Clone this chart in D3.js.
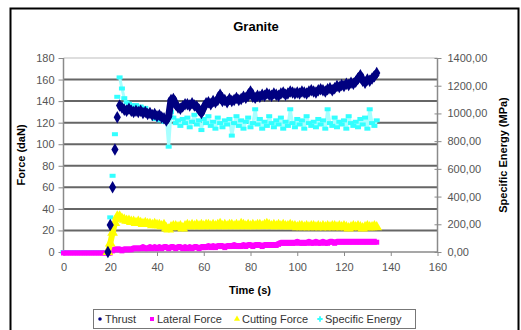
<!DOCTYPE html>
<html>
<head>
<meta charset="utf-8">
<script src="https://cdn.jsdelivr.net/npm/d3@7"></script>
<style>
  body { margin: 0; background: #fff; }
  svg { font-family: Arial, "Liberation Sans", sans-serif; }
</style>
</head>
<body>
<div id="chart"></div>
<script>
// Granite: forces (left axis, daN) and specific energy (right axis, MPa) vs time (s)
const title = 'Granite';
const forceTicks = [0, 20, 40, 60, 80, 100, 120, 140, 160, 180];
const energyTicks = [0, 200, 400, 600, 800, 1000, 1200, 1400];
const timeTicks = [0, 20, 40, 60, 80, 100, 120, 140, 160];
const seriesNames = ['Thrust', 'Lateral Force', 'Cutting Force', 'Specific Energy'];
const seriesColors = ['#000080', '#ff00ff', '#ffff00', '#33ffff'];

// one reading per second, first value at the given start time
const thrustStart = 19;
const thrust = [0, 25, 60, 95, 125, 136, 134, 132, 131, 133, 131, 130, 131, 130, 131, 129, 130, 128, 129, 127,
  128, 126, 127, 125, 124, 122, 126, 141, 142, 137, 134, 133, 135, 137, 137, 136, 138, 136, 135, 132,
  129, 134, 138, 139, 137, 140, 139, 141, 146, 140, 141, 139, 142, 140, 141, 143, 141, 142, 144, 143,
  145, 149, 144, 143, 145, 144, 146, 145, 147, 146, 145, 147, 146, 145, 147, 148, 146, 147, 149, 148,
  147, 148, 147, 149, 148, 147, 149, 150, 149, 148, 150, 151, 150, 149, 151, 152, 150, 152, 154, 153,
  155, 154, 156, 155, 157, 156, 158, 161, 164, 159, 157, 160, 159, 161, 163, 166];

const lateralStart = 0;
const lateral = [0, 0, 0, 0, 0, 0, 0, 0, 0, 0, 0, 0, 0, 0, 0, 0, 0, 0, 0, 0,
  0, 2, 3, 3, 3, 2, 3, 3, 3, 3, 4, 4, 4, 4, 5, 4, 4, 5, 4, 5,
  4, 5, 4, 5, 5, 4, 5, 5, 4, 5, 5, 4, 5, 4, 5, 4, 5, 5, 4, 5,
  5, 5, 6, 5, 6, 5, 6, 6, 6, 5, 6, 6, 6, 7, 6, 6, 6, 7, 6, 7,
  7, 6, 7, 7, 7, 6, 7, 7, 7, 7, 7, 7, 8, 9, 9, 9, 9, 9, 9, 9,
  10, 9, 9, 9, 9, 10, 9, 9, 10, 9, 9, 10, 9, 9, 10, 10, 9, 10, 10, 10,
  10, 10, 10, 10, 10, 10, 10, 10, 10, 10, 10, 10, 10, 10, 10];

const cuttingStart = 19;
const cutting = [0, 8, 18, 27, 33, 33, 31, 30, 29, 29, 28, 28, 27, 28, 27, 26, 27, 26, 26, 25,
  26, 25, 25, 24, 25, 22, 21, 23, 24, 24, 23, 24, 22, 24, 25, 24, 25, 24, 25, 24,
  25, 24, 25, 25, 24, 25, 24, 25, 26, 24, 25, 24, 25, 25, 24, 25, 24, 26, 25, 24,
  25, 24, 25, 24, 25, 25, 24, 25, 26, 25, 24, 25, 24, 25, 24, 25, 24, 24, 25, 24,
  24, 23, 24, 24, 23, 24, 23, 24, 24, 23, 24, 23, 24, 23, 24, 23, 24, 24, 23, 24,
  23, 24, 23, 22, 23, 24, 23, 24, 23, 22, 23, 24, 23, 23, 24, 23];

const energyStart = 0;
const energy = [0, 0, 0, 0, 0, 0, 0, 0, 0, 0, 0, 0, 0, 0, 0, 0, 0, 0, 0, 0,
  250, 550, 850, 1120, 1260, 1180, 1110, 1080, 1070, 1060, 1050, 1060, 1040, 1050, 1030, 1040, 1010, 990, 1000, 960,
  980, 950, 970, 940, 960, 760, 1010, 970, 930, 950, 910, 960, 930, 970, 900, 940, 990, 920, 950, 880,
  960, 930, 980, 910, 940, 890, 970, 930, 900, 950, 920, 960, 840, 930, 980, 910, 950, 890, 940, 970,
  900, 930, 1030, 920, 960, 890, 940, 910, 980, 930, 900, 950, 920, 970, 890, 940, 910, 1030, 930, 900,
  960, 920, 950, 890, 980, 930, 910, 940, 900, 960, 920, 950, 890, 1030, 930, 910, 970, 900, 940, 920,
  950, 890, 980, 930, 910, 940, 900, 960, 920, 970, 890, 1030, 930, 910, 950];

const width = 521, height = 330;
const plot = {left: 63.5, right: 437.5, top: 58, bottom: 252};

const svg = d3.select('#chart').append('svg')
  .attr('width', width)
  .attr('height', height);

// outer chart frame
svg.append('rect')
  .attr('x', 10.5).attr('y', 8.5)
  .attr('width', 508).attr('height', 330)
  .attr('fill', '#fff')
  .attr('stroke', '#000')
  .attr('stroke-width', 2);

const x = d3.scaleLinear().domain([0, 160]).range([plot.left, plot.right]);
const yF = d3.scaleLinear().domain([0, 180]).range([plot.bottom, plot.top]);
const yE = d3.scaleLinear().domain([0, 1400]).range([plot.bottom, plot.top]);

// gridlines
svg.append('g')
  .selectAll('line')
  .data(forceTicks.filter(d => d > 0 && d < 180))
  .join('line')
  .attr('x1', plot.left).attr('x2', plot.right)
  .attr('y1', d => yF(d)).attr('y2', d => yF(d))
  .attr('stroke', '#666')
  .attr('stroke-width', 2);

// plot area border (light)
svg.append('line')
  .attr('x1', plot.left).attr('x2', plot.right)
  .attr('y1', plot.top).attr('y2', plot.top)
  .attr('stroke', '#bdbdbd');

// axes
const axisColor = '#8a8a8a';
const leftAxis = svg.append('g')
  .attr('transform', `translate(${plot.left},0)`)
  .call(d3.axisLeft(yF).tickValues(forceTicks).tickSize(5).tickPadding(4));
const rightAxis = svg.append('g')
  .attr('transform', `translate(${plot.right},0)`)
  .call(d3.axisRight(yE).tickValues(energyTicks).tickSizeInner(4).tickSizeOuter(0).tickPadding(6)
    .tickFormat(d => d3.format('.2f')(d).replace('.', ',')));
rightAxis.selectAll('.tick line').attr('x1', -3);
const bottomAxis = svg.append('g')
  .attr('transform', `translate(0,${plot.bottom})`)
  .call(d3.axisBottom(x).tickValues(timeTicks).tickSize(4).tickPadding(7));

[leftAxis, rightAxis, bottomAxis].forEach(a => {
  a.select('.domain').attr('stroke', axisColor).attr('stroke-width', 1.5);
  a.selectAll('.tick line').attr('stroke', axisColor);
  a.selectAll('text').attr('fill', '#555').style('font-size', '11px')
    .style('font-family', 'Arial, "Liberation Sans", sans-serif');
});
leftAxis.select('.domain').attr('d', `M0,${plot.top}V${plot.bottom}`);
rightAxis.select('.domain').attr('d', `M0,${plot.top}V${plot.bottom}`);
bottomAxis.select('.domain').attr('d', `M${plot.left},0H${plot.right}`);

function points(start, values) {
  return values.map((v, i) => ({t: start + i, v}));
}

// a thick trace under the markers stands in for the dense sampling of the original
function band(data, yScale, color, w, fromT) {
  svg.append('path')
    .datum(data.filter(d => d.t >= fromT))
    .attr('d', d3.line().x(d => x(d.t)).y(d => yScale(d.v)))
    .attr('fill', 'none')
    .attr('stroke', color)
    .attr('stroke-width', w)
    .attr('stroke-linejoin', 'round');
}

// specific energy (secondary axis)
const energyPts = points(energyStart, energy);
band(energyPts, yE, '#a8ffff', 3, 24);
svg.append('g')
  .selectAll('rect')
  .data(energyPts)
  .join('rect')
  .attr('x', d => x(d.t) - 3)
  .attr('y', d => yE(d.v) - 2)
  .attr('width', 6).attr('height', 4)
  .attr('fill', seriesColors[3]);

// lateral force
const lateralPts = points(lateralStart, lateral);
band(lateralPts, yF, seriesColors[1], 5, 21);
svg.append('g')
  .selectAll('rect')
  .data(lateralPts)
  .join('rect')
  .attr('x', d => x(d.t) - 2.5)
  .attr('y', d => yF(d.v) - 1.5)
  .attr('width', 5).attr('height', 5)
  .attr('fill', seriesColors[1]);

// cutting force
const cuttingPts = points(cuttingStart, cutting);
band(cuttingPts, yF, seriesColors[2], 6, 19);
svg.append('g')
  .selectAll('path')
  .data(cuttingPts)
  .join('path')
  .attr('transform', d => `translate(${x(d.t)},${yF(d.v)})`)
  .attr('d', d3.symbol(d3.symbolTriangle, 50))
  .attr('fill', seriesColors[2]);

// thrust
const thrustPts = points(thrustStart, thrust);
band(thrustPts, yF, seriesColors[0], 7, 24);
svg.append('g')
  .selectAll('path')
  .data(thrustPts)
  .join('path')
  .attr('transform', d => `translate(${x(d.t)},${yF(d.v)})`)
  .attr('d', d3.symbol(d3.symbolDiamond, 45))
  .attr('fill', seriesColors[0]);

// titles
svg.append('text')
  .attr('x', 256).attr('y', 31)
  .attr('text-anchor', 'middle')
  .style('font-size', '13px').style('font-weight', 'bold')
  .text(title);

svg.append('text')
  .attr('x', 250).attr('y', 294)
  .attr('text-anchor', 'middle')
  .style('font-size', '11px').style('font-weight', 'bold')
  .text('Time (s)');

svg.append('text')
  .attr('transform', `translate(25,155) rotate(-90)`)
  .attr('text-anchor', 'middle')
  .style('font-size', '11px').style('font-weight', 'bold')
  .text('Force (daN)');

svg.append('text')
  .attr('transform', `translate(507,155) rotate(-90)`)
  .attr('text-anchor', 'middle')
  .style('font-size', '11px').style('font-weight', 'bold')
  .text('Specific Energy (MPa)');

// legend
const legend = svg.append('g');
legend.append('rect')
  .attr('x', 93.5).attr('y', 309.5)
  .attr('width', 322).attr('height', 19)
  .attr('fill', '#fff')
  .attr('stroke', '#777');

const legendX = [100, 152, 237, 320];
const legendSymbols = [d3.symbolCircle, d3.symbolSquare, d3.symbolTriangle, d3.symbolCross];
const item = legend.selectAll('g.item')
  .data(seriesNames)
  .join('g')
  .attr('class', 'item')
  .attr('transform', (d, i) => `translate(${legendX[i]},319)`);
item.append('path')
  .attr('d', (d, i) => d3.symbol(legendSymbols[i], i === 0 ? 10 : 16)())
  .attr('fill', (d, i) => seriesColors[i]);
item.append('text')
  .attr('x', 5).attr('y', 4)
  .attr('fill', '#333')
  .style('font-size', '11px')
  .text(d => d);
</script>
</body>
</html>
